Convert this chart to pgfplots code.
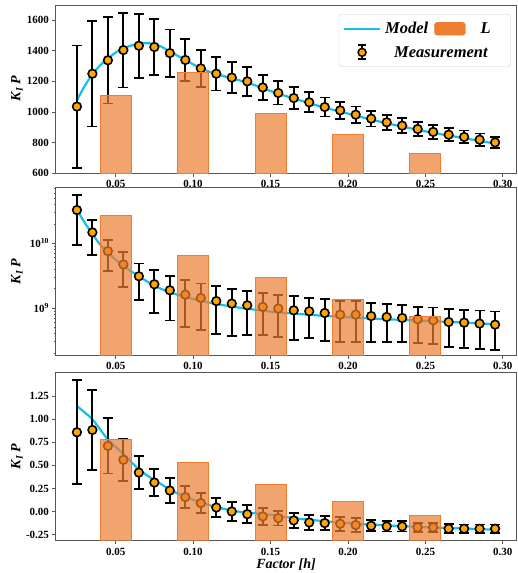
\documentclass[border=0pt]{standalone}
\usepackage{fontspec}
\setmainfont{Liberation Serif}
\usepackage{pgfplots}
\usepackage{pgfplotstable}
\pgfplotsset{compat=1.18}

\definecolor{modelblue}{RGB}{20,190,240}
\definecolor{barorange}{RGB}{237,125,49}
\definecolor{markorange}{RGB}{255,165,0}
\definecolor{spine}{RGB}{85,85,85}

% measurements: x, value, error
\pgfplotstableread{
x y e
0.025 1035 400
0.035 1250 345
0.045 1338 283
0.055 1405 245
0.065 1433 210
0.075 1425 185
0.085 1385 155
0.095 1340 135
0.105 1285 120
0.115 1250 110
0.125 1225 100
0.135 1200 95
0.145 1160 82
0.155 1124 76
0.165 1091 70
0.175 1063 65
0.185 1032 62
0.195 1010 57
0.205 982 54
0.215 956 52
0.225 932 50
0.235 910 48
0.245 888 45
0.255 869 44
0.265 851 43
0.275 836 42
0.285 818 40
0.295 800 35
}\topmeas

\pgfplotstableread{
x y
0.025 1075
0.030 1170
0.035 1245
0.040 1305
0.045 1350
0.050 1388
0.055 1415
0.060 1435
0.065 1446
0.070 1450
0.075 1445
0.080 1425
0.085 1395
0.090 1368
0.095 1340
0.100 1312
0.105 1286
0.110 1265
0.115 1248
0.125 1220
0.135 1192
0.145 1155
0.155 1120
0.165 1088
0.175 1057
0.185 1028
0.195 1002
0.205 976
0.215 950
0.225 926
0.235 904
0.245 883
0.255 863
0.265 845
0.275 828
0.285 810
0.295 793
}\topmodel

\pgfplotstableread{
x y
0.05 1105
0.10 1255
0.15 990
0.20 850
0.25 725
}\topbars

\pgfplotstableread{
x y e
0.025 3.29e10 2.35e10
0.035 1.48e10 0.82e10
0.045 7.59e9 3.8e9
0.055 4.72e9 2.6e9
0.065 3.10e9 1.77e9
0.075 2.33e9 1.5e9
0.085 1.88e9 1.24e9
0.095 1.61e9 1.1e9
0.105 1.43e9 0.97e9
0.115 1.28e9 0.89e9
0.125 1.17e9 0.8e9
0.135 1.10e9 0.72e9
0.145 1.04e9 0.66e9
0.155 0.98e9 0.62e9
0.165 0.92e9 0.6e9
0.175 0.89e9 0.55e9
0.185 0.836e9 0.53e9
0.195 0.79e9 0.49e9
0.205 0.79e9 0.49e9
0.215 0.75e9 0.45e9
0.225 0.725e9 0.43e9
0.235 0.70e9 0.40e9
0.245 0.668e9 0.38e9
0.255 0.644e9 0.37e9
0.265 0.607e9 0.36e9
0.275 0.593e9 0.35e9
0.285 0.573e9 0.34e9
0.295 0.552e9 0.33e9
}\midmeas

\pgfplotstableread{
x y
0.025 3.3e10
0.030 2.1e10
0.035 1.4e10
0.040 9.6e9
0.045 7.2e9
0.050 5.6e9
0.055 4.5e9
0.060 3.7e9
0.065 3.1e9
0.070 2.6e9
0.075 2.2e9
0.080 1.95e9
0.085 1.75e9
0.090 1.6e9
0.095 1.48e9
0.100 1.38e9
0.110 1.22e9
0.120 1.10e9
0.130 1.01e9
0.140 0.94e9
0.150 0.88e9
0.165 0.82e9
0.180 0.77e9
0.200 0.72e9
0.225 0.67e9
0.250 0.63e9
0.275 0.595e9
0.295 0.56e9
}\midmodel

\pgfplotstableread{
x y
0.05 2.68e10
0.10 6.58e9
0.15 2.96e9
0.20 1.35e9
0.25 0.743e9
}\midbars

\pgfplotstableread{
x y e
0.025 0.859 0.565
0.035 0.884 0.43
0.045 0.711 0.30
0.055 0.560 0.23
0.065 0.422 0.18
0.075 0.314 0.15
0.085 0.227 0.135
0.095 0.156 0.12
0.105 0.091 0.11
0.115 0.043 0.10
0.125 0.000 0.10
0.135 -0.029 0.095
0.145 -0.054 0.09
0.155 -0.072 0.08
0.165 -0.097 0.08
0.175 -0.119 0.078
0.185 -0.126 0.075
0.195 -0.133 0.075
0.205 -0.147 0.075
0.215 -0.155 0.06
0.225 -0.162 0.055
0.235 -0.162 0.055
0.245 -0.173 0.05
0.255 -0.173 0.05
0.265 -0.187 0.05
0.275 -0.187 0.045
0.285 -0.187 0.045
0.295 -0.187 0.045
}\botmeas

\pgfplotstableread{
x y
0.025 1.144
0.030 1.075
0.035 1.000
0.040 0.890
0.045 0.780
0.050 0.700
0.055 0.625
0.060 0.540
0.065 0.455
0.070 0.395
0.075 0.343
0.080 0.29
0.085 0.237
0.090 0.195
0.095 0.160
0.100 0.127
0.105 0.097
0.115 0.047
0.125 0.011
0.135 -0.015
0.145 -0.025
0.155 -0.048
0.165 -0.072
0.180 -0.098
0.200 -0.125
0.215 -0.142
0.250 -0.170
0.275 -0.185
0.295 -0.198
}\botmodel

\pgfplotsset{
  panel/.style={
    scale only axis, width=460pt, height=168pt,
    xmin=0.0115, xmax=0.3085,
    xtick={0.05,0.10,0.15,0.20,0.25,0.30},
    xticklabel style={/pgf/number format/.cd, fixed, fixed zerofill, precision=2},
    /pgf/number format/assume math mode=true,
    /pgf/number format/1000 sep={},
    scaled ticks=false,
    clip marker paths=true,
    tick align=outside, xtick pos=left, ytick pos=left,
    major tick length=3.5pt, minor tick length=2pt,
    tick style={spine, line width=0.8pt},
    axis line style={spine, line width=1pt},
    tick label style={font=\bfseries\fontsize{11}{12}\selectfont},
    ylabel={\textit{K}\textsubscript{\textit{I}}\,\textit{P}},
    ylabel style={at={(axis description cs:-0.085,0.5)}, anchor=center,
      font=\bfseries\fontsize{14}{16}\selectfont},
  },
  model/.style={modelblue, line width=2.2pt, smooth, no markers, forget plot},
  meas/.style={only marks, mark=*, mark size=4.3pt, forget plot,
    mark options={fill=markorange, draw=black, line width=1.6pt},
    error bars/y dir=both, error bars/y explicit,
    error bars/error bar style={black, line width=1.8pt},
    error bars/error mark options={rotate=90, black, mark size=5pt, line width=1.8pt}},
  bars/.style={ybar, bar width=0.02, bar shift=0pt, fill=barorange, fill opacity=0.7,
    draw=barorange, line width=1pt, forget plot},
  barrect/.style={fill=barorange, fill opacity=0.7, draw=barorange, line width=1pt,
    no markers, sharp plot, forget plot},
}

\begin{document}
\begin{tikzpicture}
\useasboundingbox (-56pt,5pt) rectangle (461pt,-568pt);

\begin{axis}[panel, at={(0pt,0pt)}, anchor=north west,
  ymin=600, ymax=1700, ytick={600,800,1000,1200,1400,1600},
  legend columns=2, legend cell align=left,
  legend style={at={(rel axis cs:0.989,0.946)}, anchor=north east,
    draw=black!20, rounded corners=3pt, fill=white,
    inner xsep=4pt, inner ysep=6pt, row sep=7pt,
    font=\bfseries\itshape\fontsize{16.5}{18}\selectfont,
    /tikz/every even column/.append style={column sep=4pt}},
]
\addlegendimage{legend image code/.code={\draw[modelblue, line width=2.2pt] (0pt,0pt) -- (36pt,0pt);}}
\addlegendentry{\hspace*{2pt}Model}
\addlegendimage{legend image code/.code={\fill[barorange] (0pt,-6.5pt) rectangle (31pt,6.5pt);}}
\addlegendentry{\hspace*{13pt}L\hspace*{14pt}}
\addlegendimage{legend image code/.code={
  \draw[black, line width=1.8pt] (18pt,-7pt) -- (18pt,7pt);
  \draw[black, line width=1.8pt] (14pt,7pt) -- (22pt,7pt);
  \draw[black, line width=1.8pt] (14pt,-7pt) -- (22pt,-7pt);
  \draw[black, line width=1.5pt, fill=markorange] (18pt,0pt) circle (4pt);}}
\addlegendentry{\hspace*{11pt}\rlap{Measurement}}
\addplot[model] table[x=x, y=y] {\topmodel};
\addplot[meas] table[x=x, y=y, y error=e] {\topmeas};
\addplot[bars] table[x=x, y=y] {\topbars};
\end{axis}

\begin{axis}[panel, at={(0pt,-182.3pt)}, anchor=north west,
  ymode=log, ymin=1.85e8, ymax=7.4e10,
  ytick={1e9,1e10}, yticklabels={10\textsuperscript{9},10\textsuperscript{10}},
  minor ytick={2e8,3e8,4e8,5e8,6e8,7e8,8e8,9e8,2e9,3e9,4e9,5e9,6e9,7e9,8e9,9e9,2e10,3e10,4e10,5e10,6e10,7e10},
]
\addplot[model] table[x=x, y=y] {\midmodel};
\addplot[meas] table[x=x, y=y, y error=e] {\midmeas};
\addplot[bars] table[x=x, y=y] {\midbars};
\end{axis}

\begin{axis}[panel, at={(0pt,-367.7pt)}, anchor=north west,
  ymin=-0.317, ymax=1.505, ytick={-0.25,0,0.25,0.5,0.75,1,1.25},
  yticklabel style={/pgf/number format/.cd, fixed, fixed zerofill, precision=2},
  xlabel={\textit{Factor [h]}},
  xlabel style={at={(axis description cs:0.5,0)}, yshift=-24pt, anchor=center,
    font=\bfseries\fontsize{14}{16}\selectfont},
]
\addplot[model] table[x=x, y=y] {\botmodel};
\addplot[meas] table[x=x, y=y, y error=e] {\botmeas};
\addplot[barrect] coordinates {(0.04,-1) (0.04,0.776) (0.06,0.776) (0.06,-1)};
\addplot[barrect] coordinates {(0.09,-1) (0.09,0.534) (0.11,0.534) (0.11,-1)};
\addplot[barrect] coordinates {(0.14,-1) (0.14,0.289) (0.16,0.289) (0.16,-1)};
\addplot[barrect] coordinates {(0.19,-1) (0.19,0.108) (0.21,0.108) (0.21,-1)};
\addplot[barrect] coordinates {(0.24,-1) (0.24,-0.043) (0.26,-0.043) (0.26,-1)};
\end{axis}
\end{tikzpicture}
\end{document}
